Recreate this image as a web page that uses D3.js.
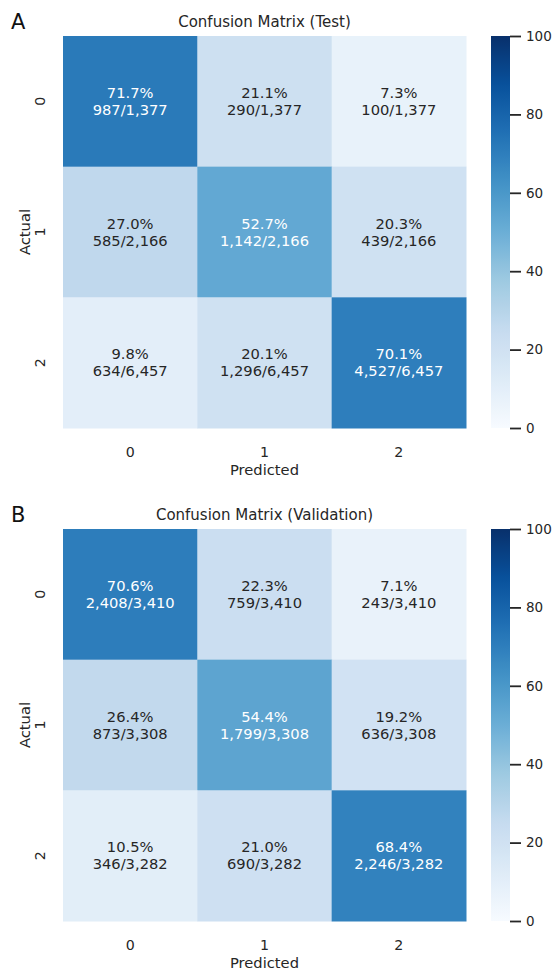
<!DOCTYPE html>
<html>
<head>
<meta charset="utf-8">
<script src="https://cdn.jsdelivr.net/npm/d3@7"></script>
<style>
  html, body { margin: 0; padding: 0; background: #ffffff; }
  svg { display: block; }
  text { font-family: "DejaVu Sans", sans-serif; }
</style>
</head>
<body>
<svg id="chart" width="555" height="972"></svg>
<script>
// Class labels shared by both matrices
const classLabels = ["0", "1", "2"];
const colorbarTicks = [0, 20, 40, 60, 80, 100];

// Test split: row-normalised percentages, counts and row totals
const testPct = [
  [71.7, 21.1, 7.3],
  [27.0, 52.7, 20.3],
  [9.8, 20.1, 70.1]
];
const testCounts = [
  [987, 290, 100],
  [585, 1142, 439],
  [634, 1296, 4527]
];
const testTotals = [1377, 2166, 6457];

// Validation split
const valPct = [
  [70.6, 22.3, 7.1],
  [26.4, 54.4, 19.2],
  [10.5, 21.0, 68.4]
];
const valCounts = [
  [2408, 759, 243],
  [873, 1799, 636],
  [346, 690, 2246]
];
const valTotals = [3410, 3308, 3282];

const panels = [
  { letter: "A", title: "Confusion Matrix (Test)", pct: testPct, counts: testCounts, totals: testTotals, top: 36 },
  { letter: "B", title: "Confusion Matrix (Validation)", pct: valPct, counts: valCounts, totals: valTotals, top: 529 }
];

// Sequential "Blues" colour map, linear in RGB between its nine anchors
const bluesAnchors = ["#f7fbff", "#deebf7", "#c6dbef", "#9ecae1", "#6baed6",
                      "#4292c6", "#2171b5", "#08519c", "#08306b"];
const color = d3.scaleLinear()
  .domain(d3.range(9).map(i => i * 100 / 8))
  .range(bluesAnchors)
  .interpolate(d3.interpolateRgb)
  .clamp(true);

function luminance(c) {
  const rgb = d3.rgb(c);
  const lin = v => { v /= 255; return v <= 0.03928 ? v / 12.92 : Math.pow((v + 0.055) / 1.055, 2.4); };
  return 0.2126 * lin(rgb.r) + 0.7152 * lin(rgb.g) + 0.0722 * lin(rgb.b);
}

const fmtCount = d3.format(",");
const svg = d3.select("#chart");

const left = 63, width = 403, height = 392;
const cbX = 491, cbW = 19;

// colour bar gradient
const defs = svg.append("defs");
const grad = defs.append("linearGradient")
  .attr("id", "cbGrad").attr("x1", 0).attr("x2", 0).attr("y1", 1).attr("y2", 0);
d3.range(0, 101, 2).forEach(v => {
  grad.append("stop").attr("offset", (v / 100)).attr("stop-color", color(v));
});

panels.forEach(p => {
  const g = svg.append("g");
  const x = d3.scaleBand().domain(classLabels).range([left, left + width]);
  const y = d3.scaleBand().domain(classLabels).range([p.top, p.top + height]);

  const cells = [];
  p.pct.forEach((row, i) => row.forEach((v, j) => cells.push({
    r: classLabels[i], c: classLabels[j], v: v, n: p.counts[i][j], tot: p.totals[i]
  })));

  g.selectAll("rect.cell").data(cells).join("rect")
    .attr("class", "cell")
    .attr("x", d => x(d.c))
    .attr("y", d => y(d.r))
    .attr("width", x.bandwidth() + 0.5)
    .attr("height", y.bandwidth() + 0.5)
    .attr("fill", d => color(d.v));

  const labels = g.selectAll("text.ann").data(cells).join("text")
    .attr("class", "ann")
    .attr("text-anchor", "middle")
    .attr("font-size", 14.7)
    .attr("fill", d => luminance(color(d.v)) > 0.408 ? "#262626" : "#ffffff");
  labels.append("tspan")
    .attr("x", d => x(d.c) + x.bandwidth() / 2)
    .attr("y", d => y(d.r) + y.bandwidth() / 2 - 3.5)
    .text(d => d.v.toFixed(1) + "%");
  labels.append("tspan")
    .attr("x", d => x(d.c) + x.bandwidth() / 2)
    .attr("y", d => y(d.r) + y.bandwidth() / 2 + 13.5)
    .text(d => fmtCount(d.n) + "/" + fmtCount(d.tot));

  // x tick labels and axis title
  g.selectAll("text.xt").data(classLabels).join("text")
    .attr("class", "xt")
    .attr("x", d => x(d) + x.bandwidth() / 2)
    .attr("y", p.top + height + 29)
    .attr("text-anchor", "middle")
    .attr("font-size", 14.2)
    .attr("fill", "#262626")
    .text(d => d);
  g.append("text")
    .attr("x", left + width / 2)
    .attr("y", p.top + height + 47)
    .attr("text-anchor", "middle")
    .attr("font-size", 14.7)
    .attr("fill", "#262626")
    .text("Predicted");

  // y tick labels (rotated) and axis title
  g.selectAll("text.yt").data(classLabels).join("text")
    .attr("class", "yt")
    .attr("transform", d => `translate(45,${y(d) + y.bandwidth() / 2}) rotate(-90)`)
    .attr("text-anchor", "middle")
    .attr("font-size", 14.2)
    .attr("fill", "#262626")
    .text(d => d);
  g.append("text")
    .attr("transform", `translate(30,${p.top + height / 2}) rotate(-90)`)
    .attr("text-anchor", "middle")
    .attr("font-size", 14.7)
    .attr("fill", "#262626")
    .text("Actual");

  // title and panel letter
  g.append("text")
    .attr("x", left + width / 2)
    .attr("y", p.top - 9.5)
    .attr("text-anchor", "middle")
    .attr("font-size", 15)
    .attr("fill", "#262626")
    .text(p.title);
  g.append("text")
    .attr("x", 11)
    .attr("y", p.top - 7)
    .attr("font-family", "'Liberation Serif', 'Times New Roman', serif")
    .attr("font-size", 21)
    .attr("fill", "#111111")
    .text(p.letter);

  // colour bar
  const cb = d3.scaleLinear().domain([0, 100]).range([p.top + height, p.top]);
  g.append("rect")
    .attr("x", cbX).attr("y", p.top)
    .attr("width", cbW).attr("height", height)
    .attr("fill", "url(#cbGrad)");
  const ax = g.append("g")
    .attr("transform", `translate(${cbX + cbW},0)`)
    .call(d3.axisRight(cb).tickValues(colorbarTicks).tickSize(11).tickPadding(5));
  ax.select(".domain").remove();
  ax.selectAll(".tick line").attr("stroke", "#262626").attr("stroke-width", 1.8);
  ax.selectAll(".tick text")
    .attr("font-family", "'DejaVu Sans', sans-serif")
    .attr("font-size", 13.5)
    .attr("fill", "#262626");
});
</script>
</body>
</html>
